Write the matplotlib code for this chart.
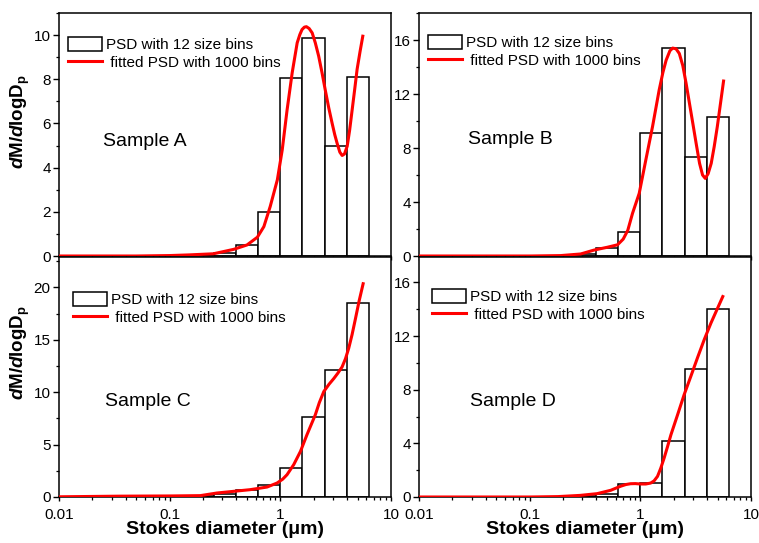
import matplotlib
matplotlib.use('Agg')
import matplotlib.pyplot as plt
from matplotlib.ticker import AutoMinorLocator, NullFormatter

plt.rcParams['font.family'] = ['Liberation Sans', 'DejaVu Sans']
plt.rcParams['mathtext.fontset'] = 'custom'
plt.rcParams['mathtext.rm'] = 'Liberation Sans'
plt.rcParams['mathtext.bf'] = 'Liberation Sans:bold'
plt.rcParams['mathtext.it'] = 'Liberation Sans:italic'
plt.rcParams['mathtext.bfit'] = 'Liberation Sans:italic:bold'

# 12 size bins (edges in um)
bin_edges = [0.025, 0.040, 0.063, 0.100, 0.158, 0.251, 0.398, 0.631, 1.0, 1.585, 2.512, 3.981, 6.31]

# bin heights for each sample
bins_A = [0, 0, 0, 0.01, 0.05, 0.15, 0.50, 1.97, 8.07, 9.88, 5.00, 8.10]
bins_B = [0, 0, 0, 0, 0.02, 0.12, 0.57, 1.75, 9.09, 15.43, 7.36, 10.32]
bins_C = [0, 0, 0, 0, 0.05, 0.30, 0.63, 1.10, 2.76, 7.65, 12.15, 18.48]
bins_D = [0, 0, 0, 0, 0, 0.05, 0.25, 0.97, 1.04, 4.19, 9.52, 14.01]

# fitted curves (1000 bins)
fit_A_x = [0.01, 0.05, 0.1, 0.15, 0.248, 0.378, 0.50, 0.62, 0.71, 0.81, 0.94, 1.04, 1.15, 1.28,
           1.42, 1.50, 1.57, 1.65, 1.72, 1.82, 1.94, 2.07, 2.22, 2.38, 2.55, 2.74, 2.94, 3.10,
           3.26, 3.45, 3.62, 3.80, 4.02, 4.23, 4.46, 4.70, 4.94, 5.25, 5.56]
fit_A_y = [0, 0, 0.02, 0.05, 0.10, 0.30, 0.50, 0.85, 1.33, 2.24, 3.45, 4.80, 6.60, 8.30,
           9.65, 10.02, 10.25, 10.36, 10.38, 10.30, 10.10, 9.65, 9.05, 8.30, 7.50, 6.70, 6.00, 5.50,
           5.10, 4.70, 4.55, 4.62, 4.97, 5.70, 6.63, 7.55, 8.45, 9.25, 9.95]

fit_B_x = [0.01, 0.1, 0.19, 0.289, 0.382, 0.505, 0.622, 0.70, 0.77, 0.85, 0.977, 1.12, 1.29, 1.48,
           1.60, 1.71, 1.85, 1.96, 2.10, 2.25, 2.42, 2.59, 2.78, 2.98, 3.20, 3.43, 3.65, 3.86,
           4.10, 4.37, 4.65, 4.96, 5.30, 5.65]
fit_B_y = [0, 0, 0.03, 0.15, 0.44, 0.65, 0.83, 1.25, 1.90, 3.16, 4.64, 7.10, 9.60, 12.30,
           13.60, 14.50, 15.20, 15.40, 15.35, 15.00, 14.10, 12.80, 11.30, 9.83, 8.30, 6.86, 6.00, 5.75,
           6.10, 6.86, 8.10, 9.58, 11.30, 12.96]

fit_C_x = [0.01, 0.036, 0.1, 0.189, 0.267, 0.378, 0.534, 0.758, 0.933, 1.05, 1.15, 1.32, 1.52, 1.74,
           2.07, 2.25, 2.47, 2.75, 3.04, 3.30, 3.61, 3.88, 4.15, 4.45, 4.77, 5.15, 5.6]
fit_C_y = [0.02, 0.08, 0.10, 0.13, 0.38, 0.54, 0.70, 0.95, 1.33, 1.70, 2.13, 3.08, 4.35, 5.94,
           7.84, 9.00, 10.06, 10.75, 11.30, 11.80, 12.40, 13.20, 14.20, 15.50, 17.00, 18.70, 20.35]

fit_D_x = [0.01, 0.1, 0.18, 0.286, 0.407, 0.54, 0.662, 0.74, 0.816, 0.90, 1.0, 1.12, 1.24, 1.33,
           1.43, 1.53, 1.64, 1.76, 1.89, 2.17, 2.49, 2.86, 3.29, 3.78, 4.35, 5.0, 5.56]
fit_D_y = [0, 0, 0.03, 0.12, 0.25, 0.50, 0.80, 0.93, 0.99, 1.00, 0.97, 0.97, 1.04, 1.20,
           1.54, 2.15, 2.90, 3.75, 4.64, 6.13, 7.64, 9.00, 10.40, 11.74, 12.98, 14.10, 14.95]

sample_names = ['Sample A', 'Sample B', 'Sample C', 'Sample D']
x_ticks = [0.01, 0.1, 1, 10]
x_tick_labels = ['0.01', '0.1', '1', '10']

panels = [
    dict(bins=bins_A, fx=fit_A_x, fy=fit_A_y, ymax=11.0, yticks=[0, 2, 4, 6, 8, 10],
         pos=[59, 13, 332, 243], leg=(9, 24), txt=(44, 141.5)),
    dict(bins=bins_B, fx=fit_B_x, fy=fit_B_y, ymax=18.0, yticks=[0, 4, 8, 12, 16],
         pos=[419, 13, 332, 243], leg=(9, 22), txt=(49, 140)),
    dict(bins=bins_C, fx=fit_C_x, fy=fit_C_y, ymax=22.9, yticks=[0, 5, 10, 15, 20],
         pos=[59, 257, 332, 240], leg=(14, 35), txt=(46, 401.5)),
    dict(bins=bins_D, fx=fit_D_x, fy=fit_D_y, ymax=17.9, yticks=[0, 4, 8, 12, 16],
         pos=[419, 257, 332, 240], leg=(13, 32), txt=(51, 401.5)),
]

W, H = 759, 543
fig = plt.figure(figsize=(W / 100, H / 100), dpi=100)

lefts = bin_edges[:-1]
widths = [b - a for a, b in zip(bin_edges[:-1], bin_edges[1:])]

for i, p in enumerate(panels):
    x0, y0, w, h = p['pos']
    ax = fig.add_axes([x0 / W, (H - y0 - h) / H, w / W, h / H])
    bars = ax.bar(lefts, p['bins'], width=widths, align='edge', facecolor='white',
                  edgecolor='black', linewidth=1.1, zorder=2)
    line, = ax.plot(p['fx'], p['fy'], color='#ff0000', lw=2.2, zorder=3,
                    solid_joinstyle='round')
    ax.set_xscale('log')
    ax.set_xlim(0.01, 10)
    ax.set_ylim(0, p['ymax'])
    ax.set_yticks(p['yticks'])
    ax.yaxis.set_minor_locator(AutoMinorLocator(2))
    ax.tick_params(axis='both', which='major', direction='out', length=4, width=1,
                   labelsize=11, pad=2)
    ax.tick_params(axis='both', which='minor', direction='out', length=2, width=0.9)
    ax.tick_params(axis='x', which='major', length=3, pad=5)
    for s in ax.spines.values():
        s.set_linewidth(1.1)
    if i < 2:
        ax.set_xticks(x_ticks)
        ax.xaxis.set_major_formatter(NullFormatter())
    else:
        ax.set_xticks(x_ticks, x_tick_labels)
        ax.set_xlabel('Stokes diameter (μm)', fontsize=14, fontweight='bold')
        ax.xaxis.set_label_coords(0.5, -0.1)
    ax.xaxis.set_minor_formatter(NullFormatter())
    if i % 2 == 0:
        ax.set_ylabel(r'$\mathbfit{d}\mathbf{M/}\mathbfit{d}\mathbf{logD}_{\mathbf{p}}$',
                      fontsize=13.5)
        yc = 0.555 if i == 0 else 0.6
        ax.yaxis.set_label_coords(-0.08, yc)

    lx, ly = p['leg']
    ax.legend([bars, line], ['PSD with 12 size bins', ' fitted PSD with 1000 bins'],
              loc='upper left', bbox_to_anchor=(lx / w, 1 - ly / h), fontsize=11,
              frameon=False, handlelength=2.2, handleheight=1.05, labelspacing=0.15,
              handletextpad=0.3, borderpad=0, borderaxespad=0)

    tx, ty = p['txt']
    ax.text(tx / w, (y0 + h - ty) / h, sample_names[i], transform=ax.transAxes,
            fontsize=14, va='center', ha='left')

fig.savefig('out.png', dpi=100)
